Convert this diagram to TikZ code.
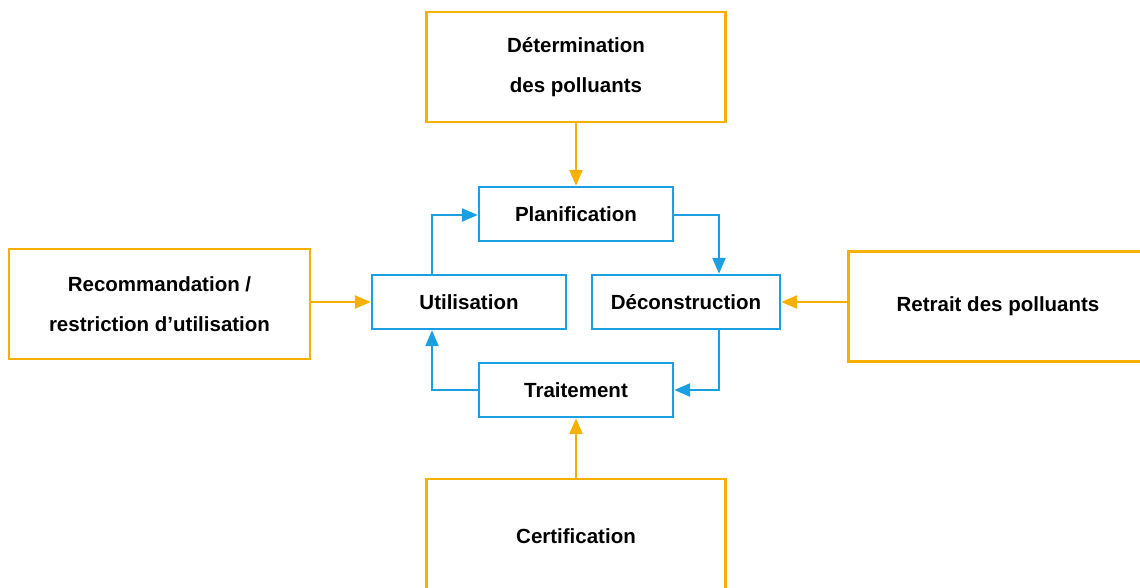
\documentclass[tikz,border=0pt]{standalone}
\usepackage{fontspec}
\setmainfont{Liberation Sans}
\usetikzlibrary{arrows.meta}
\definecolor{amber}{HTML}{F7B000}
\definecolor{cyanblue}{HTML}{1A9FE0}
\begin{document}
\begin{tikzpicture}[x=1pt,y=-1pt,
  every node/.style={font=\fontsize{20.5}{40}\selectfont\bfseries, align=center, inner sep=0pt},
  obox/.style={draw=amber, line width=2.4pt, minimum width=299pt, minimum height=110pt},
  bbox/.style={draw=cyanblue, line width=2.4pt, minimum width=194pt, minimum height=54pt},
  oarr/.style={draw=amber, line width=2.4pt, -{Triangle[length=16pt,width=13pt]}},
  barr/.style={draw=cyanblue, line width=2.4pt, -{Triangle[length=16pt,width=13pt]}}]
\useasboundingbox (0,0) rectangle (1140,588);
\node[obox] (det) at (576,67) {Détermination\\des polluants};
\node[obox, minimum width=301pt] (rec) at (159.5,304) {Recommandation /\\restriction d’utilisation};
\node[obox] (ret) at (998,306.5) {Retrait des polluants};
\node[obox, minimum height=114pt] (cert) at (576,536) {Certification};
\node[bbox] (plan) at (576,214) {Planification};
\node[bbox] (util) at (469,302) {Utilisation};
\node[bbox, minimum width=188pt] (deco) at (686,302) {Déconstruction};
\node[bbox] (trait) at (576,390) {Traitement};
\coordinate (c1) at (432,215);
\coordinate (c2) at (719,215);
\coordinate (c3) at (719,390);
\coordinate (c4) at (432,390);
\draw[oarr] (det.south) -- (plan.north);
\draw[oarr] (rec.east |- util.west) -- (util.west);
\draw[oarr] (ret.west |- deco.east) -- (deco.east);
\draw[oarr] (cert.north) -- (trait.south);
\draw[barr] (util.north -| c1) -- (c1) -- (plan.west |- c1);
\draw[barr] (plan.east |- c2) -- (c2) -- (deco.north -| c2);
\draw[barr] (deco.south -| c3) -- (c3) -- (trait.east |- c3);
\draw[barr] (trait.west |- c4) -- (c4) -- (util.south -| c4);
\end{tikzpicture}
\end{document}
